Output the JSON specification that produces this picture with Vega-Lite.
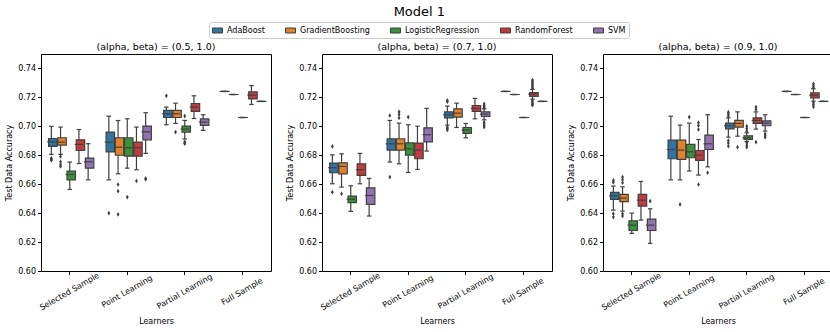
{
  "$schema": "https://vega.github.io/schema/vega-lite/v6.json",
  "padding": {"left": 5, "right": 5, "top": 5, "bottom": 2},
  "title": {"text": "Model 1", "fontSize": 13, "font": "DejaVu Sans", "fontWeight": "normal", "anchor": "middle", "offset": 3, "color": "black"},
  "data": {"values": [
    {"p": "(alpha, beta) = (0.5, 1.0)", "l": "Selected Sample", "m": "AdaBoost", "lo": 0.6806, "q1": 0.6861, "md": 0.6893, "q3": 0.6916, "hi": 0.700},
    {"p": "(alpha, beta) = (0.5, 1.0)", "l": "Selected Sample", "m": "GradientBoosting", "lo": 0.6806, "q1": 0.687, "md": 0.6891, "q3": 0.6921, "hi": 0.6995},
    {"p": "(alpha, beta) = (0.5, 1.0)", "l": "Selected Sample", "m": "LogisticRegression", "lo": 0.6564, "q1": 0.663, "md": 0.6667, "q3": 0.669, "hi": 0.6753},
    {"p": "(alpha, beta) = (0.5, 1.0)", "l": "Selected Sample", "m": "RandomForest", "lo": 0.6743, "q1": 0.6833, "md": 0.6875, "q3": 0.6907, "hi": 0.6978},
    {"p": "(alpha, beta) = (0.5, 1.0)", "l": "Selected Sample", "m": "SVM", "lo": 0.663, "q1": 0.6711, "md": 0.6755, "q3": 0.678, "hi": 0.688},
    {"p": "(alpha, beta) = (0.5, 1.0)", "l": "Point Learning", "m": "AdaBoost", "lo": 0.663, "q1": 0.6824, "md": 0.6891, "q3": 0.696, "hi": 0.707},
    {"p": "(alpha, beta) = (0.5, 1.0)", "l": "Point Learning", "m": "GradientBoosting", "lo": 0.6672, "q1": 0.680, "md": 0.6856, "q3": 0.6921, "hi": 0.704},
    {"p": "(alpha, beta) = (0.5, 1.0)", "l": "Point Learning", "m": "LogisticRegression", "lo": 0.6711, "q1": 0.6794, "md": 0.6852, "q3": 0.6921, "hi": 0.7052},
    {"p": "(alpha, beta) = (0.5, 1.0)", "l": "Point Learning", "m": "RandomForest", "lo": 0.670, "q1": 0.6794, "md": 0.6852, "q3": 0.6891, "hi": 0.6995},
    {"p": "(alpha, beta) = (0.5, 1.0)", "l": "Point Learning", "m": "SVM", "lo": 0.6813, "q1": 0.6907, "md": 0.6962, "q3": 0.7002, "hi": 0.7094},
    {"p": "(alpha, beta) = (0.5, 1.0)", "l": "Partial Learning", "m": "AdaBoost", "lo": 0.7011, "q1": 0.7061, "md": 0.7087, "q3": 0.711, "hi": 0.7133},
    {"p": "(alpha, beta) = (0.5, 1.0)", "l": "Partial Learning", "m": "GradientBoosting", "lo": 0.702, "q1": 0.7061, "md": 0.7087, "q3": 0.711, "hi": 0.716},
    {"p": "(alpha, beta) = (0.5, 1.0)", "l": "Partial Learning", "m": "LogisticRegression", "lo": 0.6912, "q1": 0.696, "md": 0.6981, "q3": 0.7002, "hi": 0.7041},
    {"p": "(alpha, beta) = (0.5, 1.0)", "l": "Partial Learning", "m": "RandomForest", "lo": 0.7054, "q1": 0.7103, "md": 0.7133, "q3": 0.7158, "hi": 0.7211},
    {"p": "(alpha, beta) = (0.5, 1.0)", "l": "Partial Learning", "m": "SVM", "lo": 0.6972, "q1": 0.7006, "md": 0.7029, "q3": 0.7052, "hi": 0.708},
    {"p": "(alpha, beta) = (0.5, 1.0)", "l": "Full Sample", "m": "AdaBoost", "lo": 0.7241, "q1": 0.7241, "md": 0.7241, "q3": 0.7241, "hi": 0.7241},
    {"p": "(alpha, beta) = (0.5, 1.0)", "l": "Full Sample", "m": "GradientBoosting", "lo": 0.722, "q1": 0.722, "md": 0.722, "q3": 0.722, "hi": 0.722},
    {"p": "(alpha, beta) = (0.5, 1.0)", "l": "Full Sample", "m": "LogisticRegression", "lo": 0.7061, "q1": 0.7061, "md": 0.7061, "q3": 0.7061, "hi": 0.7061},
    {"p": "(alpha, beta) = (0.5, 1.0)", "l": "Full Sample", "m": "RandomForest", "lo": 0.7151, "q1": 0.719, "md": 0.7216, "q3": 0.7239, "hi": 0.7282},
    {"p": "(alpha, beta) = (0.5, 1.0)", "l": "Full Sample", "m": "SVM", "lo": 0.7172, "q1": 0.7172, "md": 0.7172, "q3": 0.7172, "hi": 0.7172},

    {"p": "(alpha, beta) = (0.7, 1.0)", "l": "Selected Sample", "m": "AdaBoost", "lo": 0.6603, "q1": 0.6679, "md": 0.6714, "q3": 0.6746, "hi": 0.6803},
    {"p": "(alpha, beta) = (0.7, 1.0)", "l": "Selected Sample", "m": "GradientBoosting", "lo": 0.658, "q1": 0.6672, "md": 0.6723, "q3": 0.6748, "hi": 0.681},
    {"p": "(alpha, beta) = (0.7, 1.0)", "l": "Selected Sample", "m": "LogisticRegression", "lo": 0.6412, "q1": 0.6472, "md": 0.6497, "q3": 0.6518, "hi": 0.6589},
    {"p": "(alpha, beta) = (0.7, 1.0)", "l": "Selected Sample", "m": "RandomForest", "lo": 0.6603, "q1": 0.6661, "md": 0.670, "q3": 0.6741, "hi": 0.6813},
    {"p": "(alpha, beta) = (0.7, 1.0)", "l": "Selected Sample", "m": "SVM", "lo": 0.638, "q1": 0.646, "md": 0.6522, "q3": 0.6575, "hi": 0.664},
    {"p": "(alpha, beta) = (0.7, 1.0)", "l": "Point Learning", "m": "AdaBoost", "lo": 0.6753, "q1": 0.6836, "md": 0.6879, "q3": 0.6914, "hi": 0.7041},
    {"p": "(alpha, beta) = (0.7, 1.0)", "l": "Point Learning", "m": "GradientBoosting", "lo": 0.6741, "q1": 0.6836, "md": 0.6879, "q3": 0.6914, "hi": 0.7022},
    {"p": "(alpha, beta) = (0.7, 1.0)", "l": "Point Learning", "m": "LogisticRegression", "lo": 0.6681, "q1": 0.6801, "md": 0.6845, "q3": 0.6886, "hi": 0.7011},
    {"p": "(alpha, beta) = (0.7, 1.0)", "l": "Point Learning", "m": "RandomForest", "lo": 0.6702, "q1": 0.6776, "md": 0.6836, "q3": 0.6884, "hi": 0.7001},
    {"p": "(alpha, beta) = (0.7, 1.0)", "l": "Point Learning", "m": "SVM", "lo": 0.6829, "q1": 0.6893, "md": 0.6942, "q3": 0.699, "hi": 0.7124},
    {"p": "(alpha, beta) = (0.7, 1.0)", "l": "Partial Learning", "m": "AdaBoost", "lo": 0.7008, "q1": 0.7059, "md": 0.708, "q3": 0.710, "hi": 0.714},
    {"p": "(alpha, beta) = (0.7, 1.0)", "l": "Partial Learning", "m": "GradientBoosting", "lo": 0.6992, "q1": 0.7064, "md": 0.7091, "q3": 0.7121, "hi": 0.716},
    {"p": "(alpha, beta) = (0.7, 1.0)", "l": "Partial Learning", "m": "LogisticRegression", "lo": 0.6921, "q1": 0.6951, "md": 0.6974, "q3": 0.6992, "hi": 0.702},
    {"p": "(alpha, beta) = (0.7, 1.0)", "l": "Partial Learning", "m": "RandomForest", "lo": 0.7052, "q1": 0.7103, "md": 0.7124, "q3": 0.7144, "hi": 0.7193},
    {"p": "(alpha, beta) = (0.7, 1.0)", "l": "Partial Learning", "m": "SVM", "lo": 0.7045, "q1": 0.7068, "md": 0.7084, "q3": 0.710, "hi": 0.7121},
    {"p": "(alpha, beta) = (0.7, 1.0)", "l": "Full Sample", "m": "AdaBoost", "lo": 0.7241, "q1": 0.7241, "md": 0.7241, "q3": 0.7241, "hi": 0.7241},
    {"p": "(alpha, beta) = (0.7, 1.0)", "l": "Full Sample", "m": "GradientBoosting", "lo": 0.722, "q1": 0.722, "md": 0.722, "q3": 0.722, "hi": 0.722},
    {"p": "(alpha, beta) = (0.7, 1.0)", "l": "Full Sample", "m": "LogisticRegression", "lo": 0.7061, "q1": 0.7061, "md": 0.7061, "q3": 0.7061, "hi": 0.7061},
    {"p": "(alpha, beta) = (0.7, 1.0)", "l": "Full Sample", "m": "RandomForest", "lo": 0.7188, "q1": 0.7207, "md": 0.7223, "q3": 0.7234, "hi": 0.7255},
    {"p": "(alpha, beta) = (0.7, 1.0)", "l": "Full Sample", "m": "SVM", "lo": 0.7172, "q1": 0.7172, "md": 0.7172, "q3": 0.7172, "hi": 0.7172},

    {"p": "(alpha, beta) = (0.9, 1.0)", "l": "Selected Sample", "m": "AdaBoost", "lo": 0.6421, "q1": 0.6495, "md": 0.652, "q3": 0.6543, "hi": 0.6587},
    {"p": "(alpha, beta) = (0.9, 1.0)", "l": "Selected Sample", "m": "GradientBoosting", "lo": 0.6414, "q1": 0.6479, "md": 0.6504, "q3": 0.6529, "hi": 0.6582},
    {"p": "(alpha, beta) = (0.9, 1.0)", "l": "Selected Sample", "m": "LogisticRegression", "lo": 0.626, "q1": 0.628, "md": 0.6317, "q3": 0.6347, "hi": 0.640},
    {"p": "(alpha, beta) = (0.9, 1.0)", "l": "Selected Sample", "m": "RandomForest", "lo": 0.6352, "q1": 0.6449, "md": 0.649, "q3": 0.6529, "hi": 0.6619},
    {"p": "(alpha, beta) = (0.9, 1.0)", "l": "Selected Sample", "m": "SVM", "lo": 0.6191, "q1": 0.628, "md": 0.6317, "q3": 0.6359, "hi": 0.643},
    {"p": "(alpha, beta) = (0.9, 1.0)", "l": "Point Learning", "m": "AdaBoost", "lo": 0.663, "q1": 0.6776, "md": 0.684, "q3": 0.6905, "hi": 0.707},
    {"p": "(alpha, beta) = (0.9, 1.0)", "l": "Point Learning", "m": "GradientBoosting", "lo": 0.663, "q1": 0.6771, "md": 0.6836, "q3": 0.6905, "hi": 0.7008},
    {"p": "(alpha, beta) = (0.9, 1.0)", "l": "Point Learning", "m": "LogisticRegression", "lo": 0.6691, "q1": 0.6783, "md": 0.6824, "q3": 0.6875, "hi": 0.7022},
    {"p": "(alpha, beta) = (0.9, 1.0)", "l": "Point Learning", "m": "RandomForest", "lo": 0.6663, "q1": 0.6764, "md": 0.6801, "q3": 0.6833, "hi": 0.6909},
    {"p": "(alpha, beta) = (0.9, 1.0)", "l": "Point Learning", "m": "SVM", "lo": 0.672, "q1": 0.684, "md": 0.6879, "q3": 0.6939, "hi": 0.708},
    {"p": "(alpha, beta) = (0.9, 1.0)", "l": "Partial Learning", "m": "AdaBoost", "lo": 0.6925, "q1": 0.6983, "md": 0.7004, "q3": 0.7022, "hi": 0.7059},
    {"p": "(alpha, beta) = (0.9, 1.0)", "l": "Partial Learning", "m": "GradientBoosting", "lo": 0.6932, "q1": 0.6995, "md": 0.702, "q3": 0.7041, "hi": 0.710},
    {"p": "(alpha, beta) = (0.9, 1.0)", "l": "Partial Learning", "m": "LogisticRegression", "lo": 0.6895, "q1": 0.6909, "md": 0.6921, "q3": 0.6935, "hi": 0.6955},
    {"p": "(alpha, beta) = (0.9, 1.0)", "l": "Partial Learning", "m": "RandomForest", "lo": 0.6981, "q1": 0.702, "md": 0.7041, "q3": 0.7059, "hi": 0.710},
    {"p": "(alpha, beta) = (0.9, 1.0)", "l": "Partial Learning", "m": "SVM", "lo": 0.6967, "q1": 0.7004, "md": 0.7022, "q3": 0.7038, "hi": 0.708},
    {"p": "(alpha, beta) = (0.9, 1.0)", "l": "Full Sample", "m": "AdaBoost", "lo": 0.7241, "q1": 0.7241, "md": 0.7241, "q3": 0.7241, "hi": 0.7241},
    {"p": "(alpha, beta) = (0.9, 1.0)", "l": "Full Sample", "m": "GradientBoosting", "lo": 0.722, "q1": 0.722, "md": 0.722, "q3": 0.722, "hi": 0.722},
    {"p": "(alpha, beta) = (0.9, 1.0)", "l": "Full Sample", "m": "LogisticRegression", "lo": 0.7061, "q1": 0.7061, "md": 0.7061, "q3": 0.7061, "hi": 0.7061},
    {"p": "(alpha, beta) = (0.9, 1.0)", "l": "Full Sample", "m": "RandomForest", "lo": 0.7174, "q1": 0.7197, "md": 0.7216, "q3": 0.7232, "hi": 0.726},
    {"p": "(alpha, beta) = (0.9, 1.0)", "l": "Full Sample", "m": "SVM", "lo": 0.7172, "q1": 0.7172, "md": 0.7172, "q3": 0.7172, "hi": 0.7172},

    {"p": "(alpha, beta) = (0.5, 1.0)", "l": "Selected Sample", "m": "AdaBoost", "o": 0.678},
    {"p": "(alpha, beta) = (0.5, 1.0)", "l": "Selected Sample", "m": "AdaBoost", "o": 0.677},
    {"p": "(alpha, beta) = (0.5, 1.0)", "l": "Selected Sample", "m": "AdaBoost", "o": 0.6765},
    {"p": "(alpha, beta) = (0.5, 1.0)", "l": "Selected Sample", "m": "GradientBoosting", "o": 0.6792},
    {"p": "(alpha, beta) = (0.5, 1.0)", "l": "Selected Sample", "m": "GradientBoosting", "o": 0.6755},
    {"p": "(alpha, beta) = (0.5, 1.0)", "l": "Selected Sample", "m": "GradientBoosting", "o": 0.6737},
    {"p": "(alpha, beta) = (0.5, 1.0)", "l": "Selected Sample", "m": "GradientBoosting", "o": 0.6723},
    {"p": "(alpha, beta) = (0.5, 1.0)", "l": "Point Learning", "m": "AdaBoost", "o": 0.640},
    {"p": "(alpha, beta) = (0.5, 1.0)", "l": "Point Learning", "m": "GradientBoosting", "o": 0.6598},
    {"p": "(alpha, beta) = (0.5, 1.0)", "l": "Point Learning", "m": "GradientBoosting", "o": 0.6552},
    {"p": "(alpha, beta) = (0.5, 1.0)", "l": "Point Learning", "m": "GradientBoosting", "o": 0.6391},
    {"p": "(alpha, beta) = (0.5, 1.0)", "l": "Point Learning", "m": "LogisticRegression", "o": 0.6511},
    {"p": "(alpha, beta) = (0.5, 1.0)", "l": "Point Learning", "m": "RandomForest", "o": 0.6622},
    {"p": "(alpha, beta) = (0.5, 1.0)", "l": "Point Learning", "m": "SVM", "o": 0.664},
    {"p": "(alpha, beta) = (0.5, 1.0)", "l": "Point Learning", "m": "SVM", "o": 0.6635},
    {"p": "(alpha, beta) = (0.5, 1.0)", "l": "Partial Learning", "m": "AdaBoost", "o": 0.7211},
    {"p": "(alpha, beta) = (0.5, 1.0)", "l": "Partial Learning", "m": "GradientBoosting", "o": 0.696},
    {"p": "(alpha, beta) = (0.5, 1.0)", "l": "Partial Learning", "m": "LogisticRegression", "o": 0.7071},
    {"p": "(alpha, beta) = (0.5, 1.0)", "l": "Partial Learning", "m": "LogisticRegression", "o": 0.6893},
    {"p": "(alpha, beta) = (0.5, 1.0)", "l": "Partial Learning", "m": "LogisticRegression", "o": 0.6885},
    {"p": "(alpha, beta) = (0.5, 1.0)", "l": "Partial Learning", "m": "LogisticRegression", "o": 0.688},

    {"p": "(alpha, beta) = (0.7, 1.0)", "l": "Selected Sample", "m": "AdaBoost", "o": 0.6861},
    {"p": "(alpha, beta) = (0.7, 1.0)", "l": "Selected Sample", "m": "AdaBoost", "o": 0.6545},
    {"p": "(alpha, beta) = (0.7, 1.0)", "l": "Selected Sample", "m": "GradientBoosting", "o": 0.6534},
    {"p": "(alpha, beta) = (0.7, 1.0)", "l": "Point Learning", "m": "AdaBoost", "o": 0.7075},
    {"p": "(alpha, beta) = (0.7, 1.0)", "l": "Point Learning", "m": "AdaBoost", "o": 0.6649},
    {"p": "(alpha, beta) = (0.7, 1.0)", "l": "Point Learning", "m": "GradientBoosting", "o": 0.710},
    {"p": "(alpha, beta) = (0.7, 1.0)", "l": "Point Learning", "m": "GradientBoosting", "o": 0.7082},
    {"p": "(alpha, beta) = (0.7, 1.0)", "l": "Point Learning", "m": "GradientBoosting", "o": 0.7059},
    {"p": "(alpha, beta) = (0.7, 1.0)", "l": "Point Learning", "m": "LogisticRegression", "o": 0.7064},
    {"p": "(alpha, beta) = (0.7, 1.0)", "l": "Partial Learning", "m": "AdaBoost", "o": 0.7179},
    {"p": "(alpha, beta) = (0.7, 1.0)", "l": "Partial Learning", "m": "AdaBoost", "o": 0.717},
    {"p": "(alpha, beta) = (0.7, 1.0)", "l": "Partial Learning", "m": "AdaBoost", "o": 0.6994},
    {"p": "(alpha, beta) = (0.7, 1.0)", "l": "Partial Learning", "m": "AdaBoost", "o": 0.6985},
    {"p": "(alpha, beta) = (0.7, 1.0)", "l": "Partial Learning", "m": "AdaBoost", "o": 0.6975},
    {"p": "(alpha, beta) = (0.7, 1.0)", "l": "Partial Learning", "m": "SVM", "o": 0.7155},
    {"p": "(alpha, beta) = (0.7, 1.0)", "l": "Partial Learning", "m": "SVM", "o": 0.7145},
    {"p": "(alpha, beta) = (0.7, 1.0)", "l": "Partial Learning", "m": "SVM", "o": 0.7135},
    {"p": "(alpha, beta) = (0.7, 1.0)", "l": "Partial Learning", "m": "SVM", "o": 0.7128},
    {"p": "(alpha, beta) = (0.7, 1.0)", "l": "Partial Learning", "m": "SVM", "o": 0.7029},
    {"p": "(alpha, beta) = (0.7, 1.0)", "l": "Partial Learning", "m": "SVM", "o": 0.7018},
    {"p": "(alpha, beta) = (0.7, 1.0)", "l": "Partial Learning", "m": "SVM", "o": 0.7005},
    {"p": "(alpha, beta) = (0.7, 1.0)", "l": "Partial Learning", "m": "SVM", "o": 0.6995},
    {"p": "(alpha, beta) = (0.7, 1.0)", "l": "Full Sample", "m": "RandomForest", "o": 0.732},
    {"p": "(alpha, beta) = (0.7, 1.0)", "l": "Full Sample", "m": "RandomForest", "o": 0.731},
    {"p": "(alpha, beta) = (0.7, 1.0)", "l": "Full Sample", "m": "RandomForest", "o": 0.730},
    {"p": "(alpha, beta) = (0.7, 1.0)", "l": "Full Sample", "m": "RandomForest", "o": 0.729},
    {"p": "(alpha, beta) = (0.7, 1.0)", "l": "Full Sample", "m": "RandomForest", "o": 0.728},
    {"p": "(alpha, beta) = (0.7, 1.0)", "l": "Full Sample", "m": "RandomForest", "o": 0.727},
    {"p": "(alpha, beta) = (0.7, 1.0)", "l": "Full Sample", "m": "RandomForest", "o": 0.7262},
    {"p": "(alpha, beta) = (0.7, 1.0)", "l": "Full Sample", "m": "RandomForest", "o": 0.7178},
    {"p": "(alpha, beta) = (0.7, 1.0)", "l": "Full Sample", "m": "RandomForest", "o": 0.717},
    {"p": "(alpha, beta) = (0.7, 1.0)", "l": "Full Sample", "m": "RandomForest", "o": 0.716},
    {"p": "(alpha, beta) = (0.7, 1.0)", "l": "Full Sample", "m": "RandomForest", "o": 0.7152},
    {"p": "(alpha, beta) = (0.7, 1.0)", "l": "Full Sample", "m": "RandomForest", "o": 0.7146},

    {"p": "(alpha, beta) = (0.9, 1.0)", "l": "Selected Sample", "m": "AdaBoost", "o": 0.6626},
    {"p": "(alpha, beta) = (0.9, 1.0)", "l": "Selected Sample", "m": "AdaBoost", "o": 0.6612},
    {"p": "(alpha, beta) = (0.9, 1.0)", "l": "Selected Sample", "m": "AdaBoost", "o": 0.6396},
    {"p": "(alpha, beta) = (0.9, 1.0)", "l": "Selected Sample", "m": "AdaBoost", "o": 0.6373},
    {"p": "(alpha, beta) = (0.9, 1.0)", "l": "Selected Sample", "m": "GradientBoosting", "o": 0.6649},
    {"p": "(alpha, beta) = (0.9, 1.0)", "l": "Selected Sample", "m": "GradientBoosting", "o": 0.6631},
    {"p": "(alpha, beta) = (0.9, 1.0)", "l": "Selected Sample", "m": "GradientBoosting", "o": 0.661},
    {"p": "(alpha, beta) = (0.9, 1.0)", "l": "Selected Sample", "m": "GradientBoosting", "o": 0.6396},
    {"p": "(alpha, beta) = (0.9, 1.0)", "l": "Selected Sample", "m": "GradientBoosting", "o": 0.638},
    {"p": "(alpha, beta) = (0.9, 1.0)", "l": "Selected Sample", "m": "SVM", "o": 0.6483},
    {"p": "(alpha, beta) = (0.9, 1.0)", "l": "Point Learning", "m": "GradientBoosting", "o": 0.646},
    {"p": "(alpha, beta) = (0.9, 1.0)", "l": "Point Learning", "m": "LogisticRegression", "o": 0.7064},
    {"p": "(alpha, beta) = (0.9, 1.0)", "l": "Point Learning", "m": "RandomForest", "o": 0.7025},
    {"p": "(alpha, beta) = (0.9, 1.0)", "l": "Point Learning", "m": "RandomForest", "o": 0.7005},
    {"p": "(alpha, beta) = (0.9, 1.0)", "l": "Point Learning", "m": "RandomForest", "o": 0.6978},
    {"p": "(alpha, beta) = (0.9, 1.0)", "l": "Point Learning", "m": "RandomForest", "o": 0.6598},
    {"p": "(alpha, beta) = (0.9, 1.0)", "l": "Point Learning", "m": "SVM", "o": 0.6679},
    {"p": "(alpha, beta) = (0.9, 1.0)", "l": "Partial Learning", "m": "AdaBoost", "o": 0.7098},
    {"p": "(alpha, beta) = (0.9, 1.0)", "l": "Partial Learning", "m": "AdaBoost", "o": 0.7085},
    {"p": "(alpha, beta) = (0.9, 1.0)", "l": "Partial Learning", "m": "AdaBoost", "o": 0.7071},
    {"p": "(alpha, beta) = (0.9, 1.0)", "l": "Partial Learning", "m": "AdaBoost", "o": 0.6902},
    {"p": "(alpha, beta) = (0.9, 1.0)", "l": "Partial Learning", "m": "AdaBoost", "o": 0.6885},
    {"p": "(alpha, beta) = (0.9, 1.0)", "l": "Partial Learning", "m": "AdaBoost", "o": 0.6863},
    {"p": "(alpha, beta) = (0.9, 1.0)", "l": "Partial Learning", "m": "GradientBoosting", "o": 0.6856},
    {"p": "(alpha, beta) = (0.9, 1.0)", "l": "Partial Learning", "m": "LogisticRegression", "o": 0.7001},
    {"p": "(alpha, beta) = (0.9, 1.0)", "l": "Partial Learning", "m": "LogisticRegression", "o": 0.6985},
    {"p": "(alpha, beta) = (0.9, 1.0)", "l": "Partial Learning", "m": "LogisticRegression", "o": 0.6967},
    {"p": "(alpha, beta) = (0.9, 1.0)", "l": "Partial Learning", "m": "LogisticRegression", "o": 0.6886},
    {"p": "(alpha, beta) = (0.9, 1.0)", "l": "Partial Learning", "m": "LogisticRegression", "o": 0.687},
    {"p": "(alpha, beta) = (0.9, 1.0)", "l": "Partial Learning", "m": "LogisticRegression", "o": 0.6856},
    {"p": "(alpha, beta) = (0.9, 1.0)", "l": "Partial Learning", "m": "RandomForest", "o": 0.7133},
    {"p": "(alpha, beta) = (0.9, 1.0)", "l": "Partial Learning", "m": "RandomForest", "o": 0.7117},
    {"p": "(alpha, beta) = (0.9, 1.0)", "l": "Partial Learning", "m": "RandomForest", "o": 0.6891},
    {"p": "(alpha, beta) = (0.9, 1.0)", "l": "Partial Learning", "m": "SVM", "o": 0.6948},
    {"p": "(alpha, beta) = (0.9, 1.0)", "l": "Partial Learning", "m": "SVM", "o": 0.6935},
    {"p": "(alpha, beta) = (0.9, 1.0)", "l": "Partial Learning", "m": "SVM", "o": 0.6925},
    {"p": "(alpha, beta) = (0.9, 1.0)", "l": "Full Sample", "m": "RandomForest", "o": 0.7294},
    {"p": "(alpha, beta) = (0.9, 1.0)", "l": "Full Sample", "m": "RandomForest", "o": 0.728},
    {"p": "(alpha, beta) = (0.9, 1.0)", "l": "Full Sample", "m": "RandomForest", "o": 0.7267},
    {"p": "(alpha, beta) = (0.9, 1.0)", "l": "Full Sample", "m": "RandomForest", "o": 0.7163},
    {"p": "(alpha, beta) = (0.9, 1.0)", "l": "Full Sample", "m": "RandomForest", "o": 0.715},
    {"p": "(alpha, beta) = (0.9, 1.0)", "l": "Full Sample", "m": "RandomForest", "o": 0.7135}
  ]},
  "facet": {
    "column": {
      "field": "p", "type": "nominal",
      "sort": ["(alpha, beta) = (0.5, 1.0)", "(alpha, beta) = (0.7, 1.0)", "(alpha, beta) = (0.9, 1.0)"],
      "header": {"title": null, "labelFontSize": 9.5, "labelFont": "DejaVu Sans", "labelFontWeight": "normal", "labelColor": "black", "labelPadding": 2}
    }
  },
  "spacing": 14,
  "resolve": {"axis": {"y": "independent", "x": "independent"}},
  "spec": {
    "width": 230,
    "height": 217,
    "encoding": {
      "x": {
        "field": "l", "type": "nominal",
        "sort": ["Selected Sample", "Point Learning", "Partial Learning", "Full Sample"],
        "scale": {"paddingInner": 0.2, "paddingOuter": 0.1},
        "title": "Learners",
        "axis": {"labelAngle": -30, "labelAlign": "center", "labelBaseline": "middle", "labelPadding": 17, "labelFontSize": 8}
      },
      "xOffset": {
        "field": "m", "type": "nominal",
        "sort": ["AdaBoost", "GradientBoosting", "LogisticRegression", "RandomForest", "SVM"],
        "scale": {"paddingInner": 0, "paddingOuter": 0}
      }
    },
    "layer": [
      {
        "transform": [{"filter": "isValid(datum.q1)"}],
        "mark": {"type": "rule", "color": "#3f3f3f", "strokeWidth": 1.2},
        "encoding": {
          "y": {"field": "lo", "type": "quantitative", "title": "Test Data Accuracy",
                "scale": {"domain": [0.6, 0.75], "nice": false, "zero": false},
                "axis": {"values": [0.6, 0.62, 0.64, 0.66, 0.68, 0.7, 0.72, 0.74], "format": ".2f", "labelOverlap": false, "labelFlush": false}},
          "y2": {"field": "hi"}
        }
      },
      {
        "transform": [{"filter": "isValid(datum.q1)"}],
        "mark": {"type": "bar", "width": {"band": 0.92}, "stroke": "#3f3f3f", "strokeWidth": 1.2, "opacity": 1},
        "encoding": {
          "y": {"field": "q1", "type": "quantitative", "title": "Test Data Accuracy",
                "axis": {"values": [0.6, 0.62, 0.64, 0.66, 0.68, 0.7, 0.72, 0.74], "format": ".2f", "labelOverlap": false, "labelFlush": false}},
          "y2": {"field": "q3"},
          "color": {
            "field": "m", "type": "nominal",
            "scale": {"domain": ["AdaBoost", "GradientBoosting", "LogisticRegression", "RandomForest", "SVM"],
                      "range": ["#3274a1", "#e1812c", "#3a923a", "#c03d3e", "#9372b2"]},
            "legend": {"title": null, "orient": "top", "direction": "horizontal",
                       "symbolType": "M -1 -0.5 L 1 -0.5 L 1 0.5 L -1 0.5 Z", "symbolSize": 100,
                       "symbolStrokeColor": "#3f3f3f", "symbolStrokeWidth": 1, "symbolOpacity": 1,
                       "labelFontSize": 8, "labelFont": "DejaVu Sans", "labelColor": "black",
                       "columnPadding": 18, "strokeColor": "#cccccc", "padding": 3, "cornerRadius": 2, "offset": 3}
          }
        }
      },
      {
        "transform": [{"filter": "isValid(datum.q1)"}],
        "mark": {"type": "tick", "color": "#3f3f3f", "size": 8.4, "thickness": 1.2, "opacity": 1},
        "encoding": {"y": {"field": "md", "type": "quantitative", "title": "Test Data Accuracy",
                "axis": {"values": [0.6, 0.62, 0.64, 0.66, 0.68, 0.7, 0.72, 0.74], "format": ".2f", "labelOverlap": false, "labelFlush": false}}}
      },
      {
        "transform": [{"filter": "isValid(datum.q1)"}],
        "mark": {"type": "tick", "color": "#3f3f3f", "size": 4.5, "thickness": 1.2, "opacity": 1},
        "encoding": {"y": {"field": "lo", "type": "quantitative", "title": "Test Data Accuracy",
                "axis": {"values": [0.6, 0.62, 0.64, 0.66, 0.68, 0.7, 0.72, 0.74], "format": ".2f", "labelOverlap": false, "labelFlush": false}}}
      },
      {
        "transform": [{"filter": "isValid(datum.q1)"}],
        "mark": {"type": "tick", "color": "#3f3f3f", "size": 4.5, "thickness": 1.2, "opacity": 1},
        "encoding": {"y": {"field": "hi", "type": "quantitative", "title": "Test Data Accuracy",
                "axis": {"values": [0.6, 0.62, 0.64, 0.66, 0.68, 0.7, 0.72, 0.74], "format": ".2f", "labelOverlap": false, "labelFlush": false}}}
      },
      {
        "transform": [{"filter": "isValid(datum.o)"}],
        "mark": {"type": "point", "shape": "M -0.6 0 L 0 -1 L 0.6 0 L 0 1 Z", "filled": true, "color": "#3f3f3f", "size": 22, "opacity": 1},
        "encoding": {"y": {"field": "o", "type": "quantitative", "title": "Test Data Accuracy",
                "axis": {"values": [0.6, 0.62, 0.64, 0.66, 0.68, 0.7, 0.72, 0.74], "format": ".2f", "labelOverlap": false, "labelFlush": false}}}
      }
    ]
  },
  "config": {
    "view": {"stroke": "black", "strokeWidth": 1},
    "axis": {"labelFont": "DejaVu Sans", "titleFont": "DejaVu Sans", "labelFontSize": 8, "titleFontSize": 8, "titleFontWeight": "normal",
             "labelColor": "black", "titleColor": "black", "tickColor": "black", "tickSize": 3.5, "domain": false, "grid": false},
    "axisX": {"titlePadding": 6},
    "axisY": {"titlePadding": 4},
    "legend": {"layout": {"top": {"anchor": "middle"}}}
  }
}
